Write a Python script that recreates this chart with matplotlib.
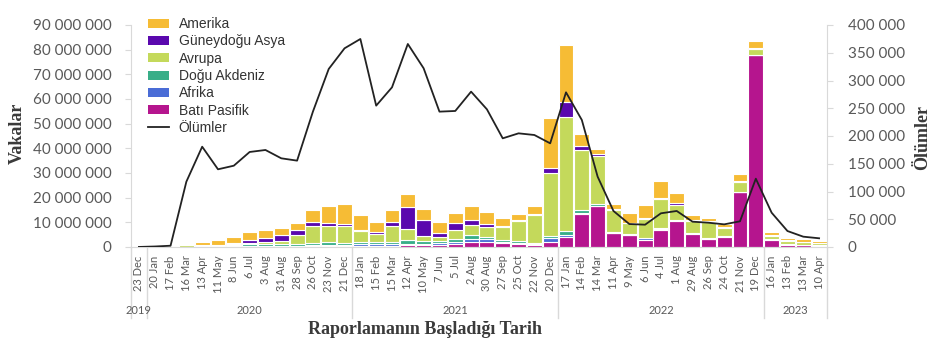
import matplotlib
matplotlib.use('Agg')
import matplotlib.pyplot as plt
from matplotlib.patches import Patch
from matplotlib.lines import Line2D
import numpy as np

# 4 haftalik raporlama donemleri
dates = ['23 Dec', '20 Jan', '17 Feb', '16 Mar', '13 Apr', '11 May', '8 Jun', '6 Jul', '3 Aug', '31 Aug',
         '28 Sep', '26 Oct', '23 Nov', '21 Dec', '18 Jan', '15 Feb', '15 Mar', '12 Apr', '10 May', '7 Jun',
         '5 Jul', '2 Aug', '30 Aug', '27 Sep', '25 Oct', '22 Nov', '20 Dec', '17 Jan', '14 Feb', '14 Mar',
         '11 Apr', '9 May', '6 Jun', '4 Jul', '1 Aug', '29 Aug', '26 Sep', '24 Oct', '21 Nov', '19 Dec',
         '16 Jan', '13 Feb', '13 Mar', '10 Apr']
years = ['2019', '2020', '2021', '2022', '2023']
year_centers = [0, 7, 20, 33, 41.5]
year_breaks = [-0.5, 0.5, 13.5, 26.5, 39.5, 43.5]

# vakalar (milyon)
amr = [0, 0, 0, 0.35, 1.2, 1.8, 2.5, 3.3, 3.2, 2.9, 3.1, 5.0, 7.0, 8.4, 6.1, 4.2, 4.9, 5.0, 4.5, 4.5,
       4.0, 5.4, 5.1, 3.1, 2.5, 3.2, 20.2, 22.8, 4.7, 2.0, 2.1, 3.8, 5.2, 6.8, 4.1, 2.1, 1.2, 1.1, 2.9, 3.1,
       1.5, 1.2, 1.1, 0.8]
sear = [0, 0, 0, 0.02, 0.05, 0.2, 0.5, 0.9, 1.6, 2.5, 1.8, 1.4, 1.2, 0.8, 0.7, 0.5, 1.9, 9.0, 6.6, 1.6,
        2.7, 2.2, 1.2, 0.7, 0.6, 0.4, 2.0, 6.4, 1.6, 0.9, 0.3, 0.2, 0.3, 0.7, 0.8, 0.6, 0.4, 0.3, 0.2, 0.2,
        0.1, 0.1, 0.1, 0.2]
eur = [0, 0, 0.01, 0.6, 0.5, 0.4, 0.5, 0.6, 0.9, 1.2, 3.6, 7.2, 6.7, 6.8, 4.3, 3.5, 6.2, 4.6, 1.9, 1.4,
       3.5, 4.1, 3.8, 5.0, 8.1, 11.4, 25.7, 46.0, 24.5, 19.5, 9.0, 4.3, 7.8, 11.7, 5.8, 4.6, 6.6, 3.4, 4.0, 2.3,
       1.4, 1.4, 1.0, 0.8]
emr = [0, 0, 0, 0.1, 0.15, 0.3, 0.4, 0.6, 0.6, 0.5, 0.7, 0.8, 1.0, 0.8, 0.9, 0.8, 1.1, 1.3, 1.2, 0.8,
       1.3, 1.6, 1.1, 0.8, 0.6, 0.4, 0.6, 1.6, 1.1, 0.6, 0.3, 0.3, 0.2, 0.4, 0.3, 0.3, 0.2, 0.1, 0.1, 0.1,
       0.1, 0.1, 0.1, 0.1]
afr = [0, 0, 0, 0.01, 0.02, 0.05, 0.2, 0.4, 0.4, 0.3, 0.3, 0.3, 0.4, 0.4, 0.6, 0.6, 0.5, 0.6, 0.5, 0.8,
       0.9, 1.2, 0.9, 0.6, 0.4, 0.3, 1.5, 1.0, 0.5, 0.3, 0.2, 0.3, 0.5, 0.4, 0.2, 0.2, 0.1, 0.1, 0.1, 0.1,
       0.1, 0.05, 0.05, 0.05]
wpr = [0, 0.01, 0.07, 0.05, 0.05, 0.05, 0.1, 0.2, 0.2, 0.3, 0.3, 0.4, 0.5, 0.4, 0.5, 0.5, 0.6, 0.8, 0.8, 1.0,
       1.2, 2.0, 2.2, 1.6, 1.3, 0.8, 2.2, 3.9, 13.4, 16.5, 5.5, 4.7, 3.0, 6.8, 10.6, 5.3, 3.2, 4.2, 22.2, 77.8,
       3.0, 1.0, 0.7, 0.5]

deaths = [100, 900, 2300, 117700, 180700, 140000, 146500, 171200, 174800, 159800, 155600, 243900, 320800,
          358000, 374800, 254700, 287700, 365800, 322000, 243900, 245100, 279900, 248100, 195800, 204800,
          201800, 186800, 278700, 228900, 126700, 64900, 41400, 40200, 60700, 64900, 45600, 43800, 40800,
          46300, 123100, 61800, 28800, 18600, 15700]

# alttan uste yigin sirasi
series = [
    ('Batı Pasifik', wpr, '#B5158E'),
    ('Afrika', afr, '#4A6CD6'),
    ('Doğu Akdeniz', emr, '#38AE88'),
    ('Avrupa', eur, '#C4D95B'),
    ('Güneydoğu Asya', sear, '#5A08AE'),
    ('Amerika', amr, '#F6BC35'),
]

tick_font = 'Lato'
gray = '#595959'
axis_gray = '#d9d9d9'
title_kw = dict(family='Liberation Serif', fontsize=13, color='#3a3a3a', fontweight='bold')

fig = plt.figure(figsize=(9.44, 3.53), dpi=100)
ax = fig.add_axes([131 / 944, 106 / 353, 696 / 944, 222 / 353])

x = np.arange(len(dates))
bottom = np.zeros(len(dates))
for name, vals, col in series:
    v = np.array(vals) * 1e6
    ax.bar(x, v, bottom=bottom, width=0.94, color=col, edgecolor='white', linewidth=0.8)
    bottom += v

ax.set_xlim(-0.5, len(dates) - 0.5)
ax.set_ylim(0, 90e6)
ax.set_yticks(np.arange(0, 90e6 + 1, 10e6))
ax.set_yticklabels([f'{int(t):,}'.replace(',', ' ') for t in ax.get_yticks()],
                   fontsize=11, color=gray, family=tick_font)
ax.set_xticks(x)
ax.set_xticklabels(dates, rotation=90, fontsize=8, color=gray, family=tick_font)
ax.tick_params(axis='x', length=0, pad=6)
ax.tick_params(axis='y', length=4, color=axis_gray, pad=10)
for s in ['top', 'right']:
    ax.spines[s].set_visible(False)
for s in ['left', 'bottom']:
    ax.spines[s].set_color(axis_gray)

# olumler ikinci eksende
ax2 = ax.twinx()
ax2.plot(x, deaths, color='#222222', linewidth=1.3)
ax2.set_ylim(0, 400000)
ax2.set_yticks(np.arange(0, 400001, 50000))
ax2.set_yticklabels([f'{int(t):,}'.replace(',', ' ') for t in ax2.get_yticks()],
                    fontsize=11, color=gray, family=tick_font)
ax2.tick_params(axis='y', length=4, color=axis_gray, pad=11)
for s in ['top', 'left', 'bottom']:
    ax2.spines[s].set_visible(False)
ax2.spines['right'].set_color(axis_gray)

# yil gruplari
trans = ax.get_xaxis_transform()
for xb in year_breaks:
    ax.plot([xb, xb], [0, -71 / 222], transform=trans, color=axis_gray, linewidth=1, clip_on=False)
for yr, xc in zip(years, year_centers):
    ax.text(xc, -64 / 222, yr, transform=trans, ha='center', va='center', fontsize=8,
            color=gray, family=tick_font)

fig.text(17 / 944, 1 - 133 / 353, 'Vakalar', rotation=90, ha='center', va='center', **title_kw)
fig.text(923 / 944, 1 - 138 / 353, 'Ölümler', rotation=90, ha='center', va='center', **title_kw)
fig.text(425 / 944, 1 - 330 / 353, 'Raporlamanın Başladığı Tarih', ha='center', va='center', **title_kw)

handles = [Patch(facecolor=col) for name, vals, col in series[::-1]]
handles.append(Line2D([0], [0], color='#222222', linewidth=1.3))
labels = [name for name, vals, col in series[::-1]] + ['Ölümler']
ax2.legend(handles, labels, loc='upper left', bbox_to_anchor=(148 / 944, 1 - 17 / 353),
           bbox_transform=fig.transFigure, frameon=False,
           prop={'family': 'Liberation Sans', 'size': 10}, labelspacing=0.24,
           handlelength=1.5, handleheight=0.6, handletextpad=0.7, borderaxespad=0, borderpad=0,
           labelcolor='#333333')

fig.savefig('out.png', dpi=100)
